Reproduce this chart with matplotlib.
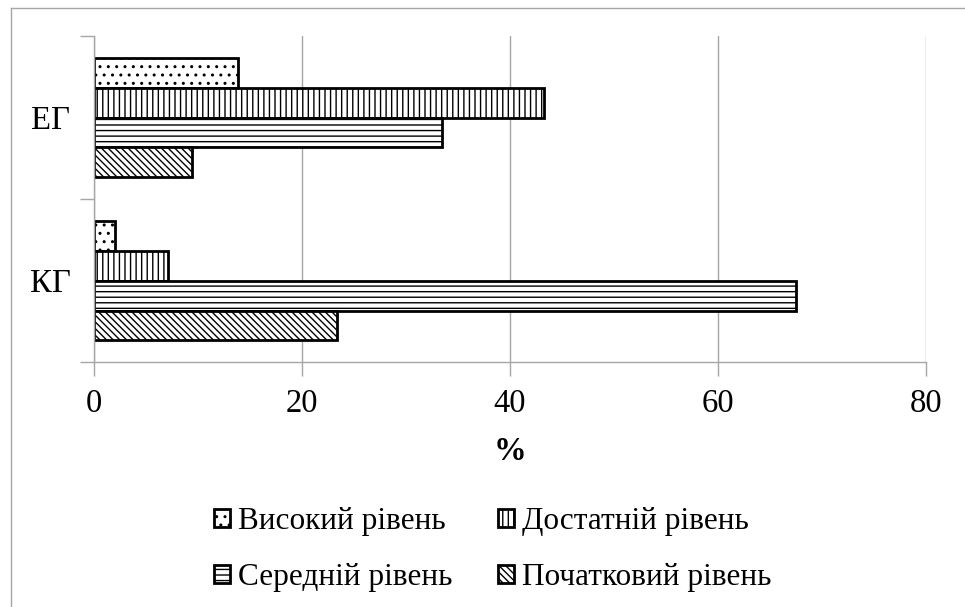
import numpy as np
import matplotlib.pyplot as plt
from matplotlib.lines import Line2D

plt.rcParams['font.family'] = ['Liberation Serif', 'DejaVu Serif']
plt.rcParams['hatch.linewidth'] = 1.0

# data (% of students per level)
groups = ['КГ', 'ЕГ']
levels = ['Високий рівень', 'Достатній рівень', 'Середній рівень', 'Початковий рівень']
kg_values = [2.0, 7.1, 67.5, 23.4]
eg_values = [13.8, 43.3, 33.5, 9.4]
hatches = ['..', '|||', '---', '\\\\\\\\\\']
xticks = [0, 20, 40, 60, 80]

grid_gray = '#a6a6a6'

fig = plt.figure(figsize=(9.65, 6.07), dpi=100)
ax = fig.add_axes([0.0974, 0.4036, 0.8622, 0.5371])

h = 0.184
y_pos = np.arange(len(groups))
offsets = [1.5 * h, 0.5 * h, -0.5 * h, -1.5 * h]
bars = []
for i, lvl in enumerate(levels):
    vals = [kg_values[i], eg_values[i]]
    b = ax.barh(y_pos + offsets[i], vals, height=h, color='white',
                edgecolor='black', linewidth=2, hatch=hatches[i], label=lvl)
    bars.append(b)

ax.set_xlim(0, 80)
ax.set_ylim(-0.5, 1.5)
ax.set_xticks(xticks)
ax.set_xticklabels([str(t) for t in xticks], fontsize=23.5)
ax.set_yticks(y_pos)
ax.set_yticklabels(groups, fontsize=23.5)
ax.set_yticks([-0.5, 0.5, 1.5], minor=True)
ax.tick_params(axis='y', which='major', length=0, pad=17)
ax.tick_params(axis='y', which='minor', length=10, color=grid_gray, width=1)
ax.tick_params(axis='x', length=10, color=grid_gray, width=1, pad=9)

ax.grid(axis='x', color=grid_gray, linewidth=1)
ax.set_axisbelow(True)
for s in ['top', 'right']:
    ax.spines[s].set_visible(False)
for s in ['left', 'bottom']:
    ax.spines[s].set_color(grid_gray)
    ax.spines[s].set_linewidth(1)

ax.set_xlabel('%', fontsize=23.5, fontweight='bold', labelpad=12)

# legend: row 1 = Високий, Достатній; row 2 = Середній, Початковий
order = [0, 2, 1, 3]
leg = fig.legend([bars[i] for i in order], [levels[i] for i in order],
                 ncol=2, loc='center', bbox_to_anchor=(0.5104, 0.0947),
                 frameon=False, fontsize=22.5, handlelength=0.52,
                 handleheight=0.52, handletextpad=0.26, columnspacing=1.45,
                 labelspacing=0.86)

# outer chart frame
fig.add_artist(Line2D([11 / 965, 1], [1 - 8 / 607] * 2, color=grid_gray, lw=1))
fig.add_artist(Line2D([11 / 965] * 2, [0, 1 - 8 / 607], color=grid_gray, lw=1))

fig.savefig('out.png', dpi=100)
